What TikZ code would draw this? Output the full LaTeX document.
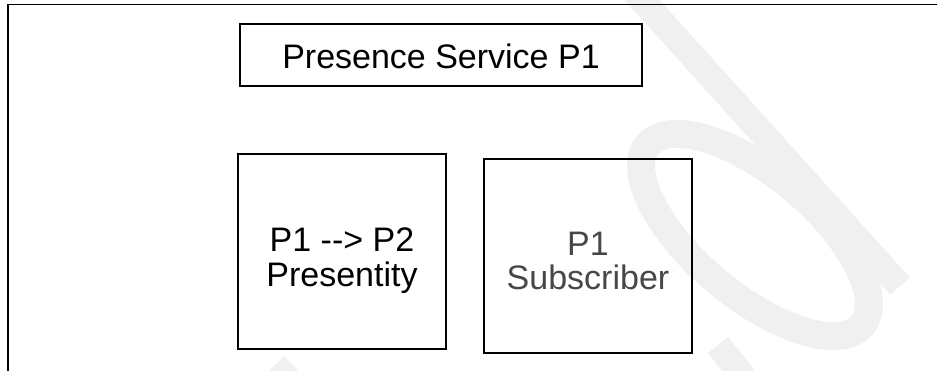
\documentclass[tikz,border=0pt]{standalone}
\usepackage{fontspec}
\setmainfont{Liberation Sans}
\begin{document}
\begin{tikzpicture}[x=1pt,y=-1pt,
  wm/.style={draw=black!6,line width=26},
  box/.style={draw,line width=1.4pt,inner sep=0pt},
  lbl/.style={font=\fontsize{34}{34.5}\selectfont,align=center,inner sep=0pt}]
\useasboundingbox (0,0) rectangle (937,370);
% watermark
\begin{scope}
\clip (0,0) rectangle (937,370);
\draw[wm] (633,-10) -- (900,286);
\draw[wm,line width=28,rotate around={-40:(755,235)}] (755,235) ellipse [x radius=140, y radius=60];
\draw[wm] (718,345) -- (750,385);
\draw[wm] (300,392) -- (275,365);
\end{scope}
% frame
\draw[line width=1.4pt] (8,371) -- (8,4.7) -- (938,4.7);
% boxes
\node[box,minimum width=402,minimum height=62] (svc) at (441,55) {};
\node[lbl] (svct) at ([yshift=-1]svc.center) {Presence Service P1};
\node[box,minimum width=208,minimum height=195] (pres) at (342,251.5) {};
\node[lbl] (prest) at ([yshift=-9]pres.center) {P1 -{}-{}> P2\\Presentity};
\node[box,minimum width=208,minimum height=194] (sub) at (588,256) {};
\node[lbl,text=black!72] (subt) at ([yshift=-5]sub.center) {P1\\Subscriber};
\end{tikzpicture}
\end{document}
